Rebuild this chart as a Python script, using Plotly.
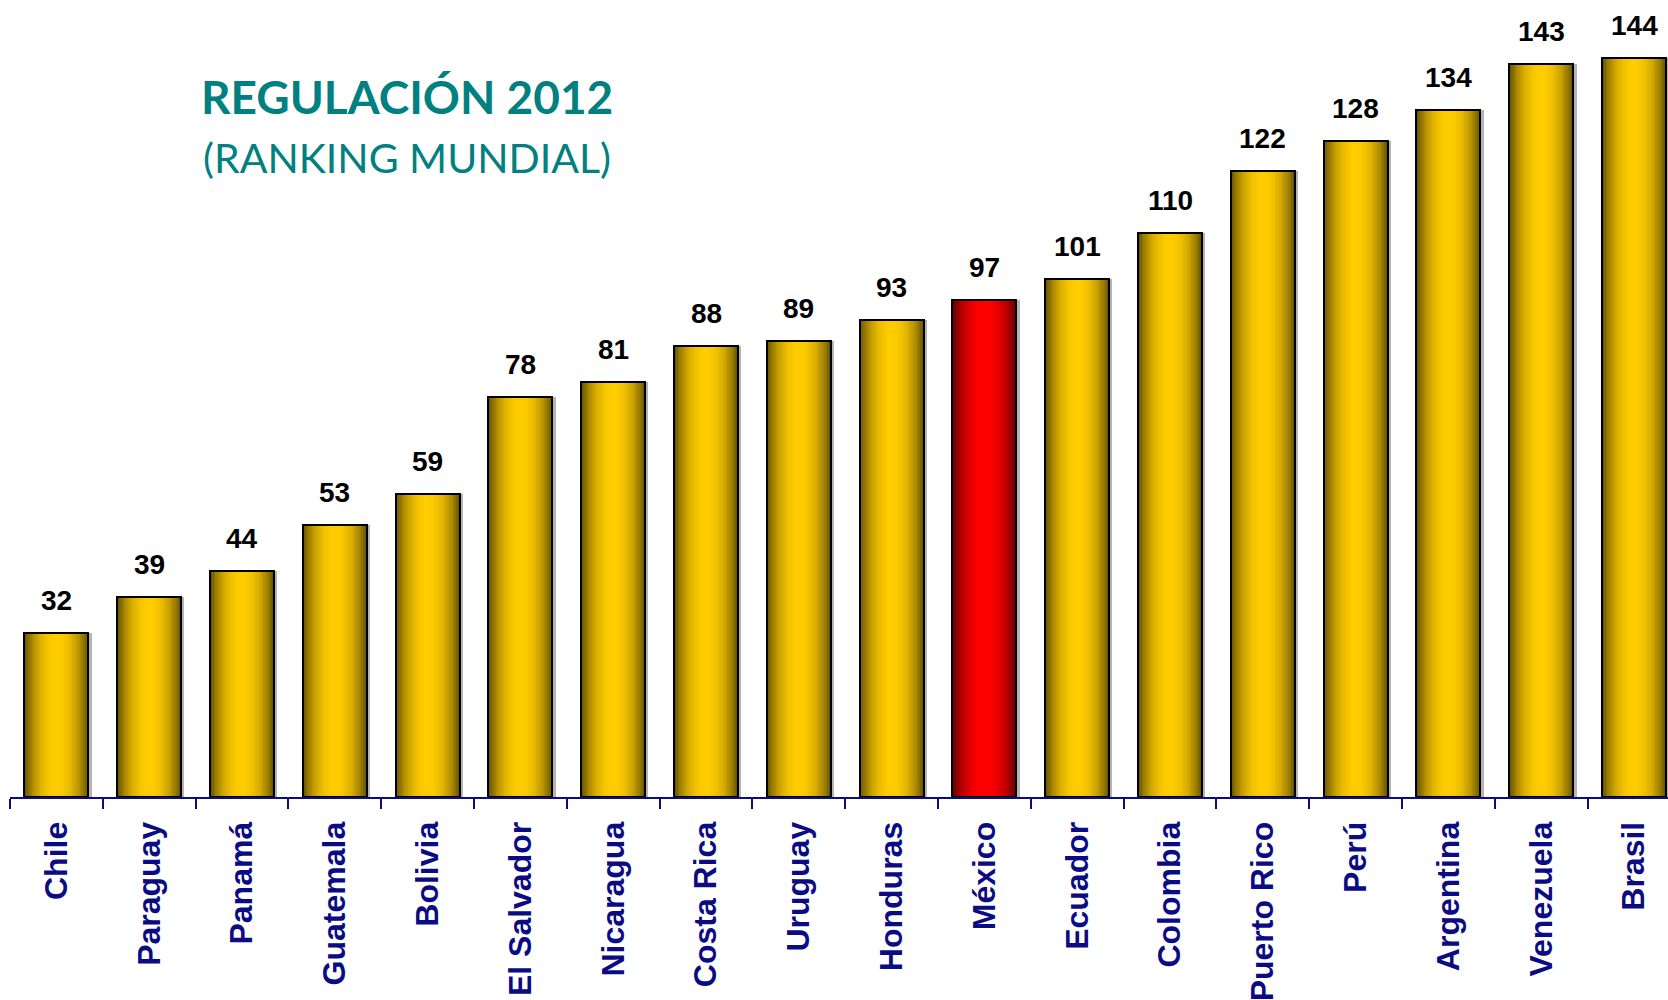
import plotly.graph_objects as go

countries = ["Chile", "Paraguay", "Panamá", "Guatemala", "Bolivia", "El Salvador",
             "Nicaragua", "Costa Rica", "Uruguay", "Honduras", "México", "Ecuador",
             "Colombia", "Puerto Rico", "Perú", "Argentina", "Venezuela", "Brasil"]
ranking = [32, 39, 44, 53, 59, 78, 81, 88, 89, 93, 97, 101, 110, 122, 128, 134, 143, 144]
highlight = "México"

title_line1 = "REGULACIÓN 2012"
title_line2 = "(RANKING MUNDIAL)"

# styles
YELLOW_EDGE = (108, 88, 0)
YELLOW_CENTER = (255, 204, 0)
RED_EDGE = (105, 0, 0)
RED_CENTER = (255, 0, 0)
BAR_WIDTH = 0.69
N_LAYERS = 18
NAVY = "#0b0b84"
TEAL = "#008080"


def mix(a, b, f):
    return "rgb(%d,%d,%d)" % tuple(round(a[i] + (b[i] - a[i]) * f) for i in range(3))


fig = go.Figure()

# soft drop shadow
fig.add_trace(go.Bar(
    x=countries, y=ranking, width=BAR_WIDTH, offset=-BAR_WIDTH / 2 + 0.035,
    marker=dict(color="rgba(120,120,120,0.55)", line=dict(width=0)),
    hoverinfo="skip", showlegend=False))

# gradient layers (cylinder look)
for k in range(N_LAYERS):
    p = 1 - k / N_LAYERS               # normalized half-width of this layer
    f = 1 - p ** 2.2                   # brightness profile
    w = BAR_WIDTH * p
    colors = [mix(RED_EDGE, RED_CENTER, f) if c == highlight else mix(YELLOW_EDGE, YELLOW_CENTER, f)
              for c in countries]
    fig.add_trace(go.Bar(
        x=countries, y=ranking, width=w,
        marker=dict(color=colors, line=dict(width=0)),
        hoverinfo="skip", showlegend=False))

# outline
fig.add_trace(go.Bar(
    x=countries, y=ranking, width=BAR_WIDTH,
    marker=dict(color="rgba(0,0,0,0)", line=dict(color="black", width=2)),
    showlegend=False))

# value labels
for c, v in zip(countries, ranking):
    fig.add_annotation(x=c, y=v, text=str(v), showarrow=False, yanchor="bottom",
                       yshift=15, font=dict(family="Liberation Sans, Arial", size=28,
                                            color="black", weight="bold"))

fig.add_annotation(xref="paper", yref="paper", x=0.2395, y=0.8783, text=title_line1,
                   showarrow=False, xanchor="center", yanchor="middle",
                   font=dict(family="Lato", size=46, color=TEAL, weight="bold"))
fig.add_annotation(xref="paper", yref="paper", x=0.2395, y=0.8018, text=title_line2,
                   showarrow=False, xanchor="center", yanchor="middle",
                   font=dict(family="Lato", size=41, color=TEAL))

fig.update_layout(
    width=1668, height=1000,
    margin=dict(l=10, r=0, t=0, b=203),
    barmode="overlay", bargap=0,
    paper_bgcolor="white", plot_bgcolor="white",
    xaxis=dict(type="category", range=[-0.5, 17.366], showline=True, linecolor=NAVY,
               linewidth=2, ticks="outside", tickson="boundaries", ticklen=10,
               tickwidth=2, tickcolor=NAVY, tickangle=-90, ticklabelstandoff=10,
               tickfont=dict(family="Liberation Sans, Arial", size=32, color=NAVY,
                             weight="bold"),
               showgrid=False, zeroline=False, fixedrange=True),
    yaxis=dict(range=[0, 155.4], visible=False, showgrid=False, zeroline=False),
)

fig.write_html("out.html", config={"displayModeBar": False},
               post_script="document.body.style.margin='0';document.body.style.overflow='hidden';")
